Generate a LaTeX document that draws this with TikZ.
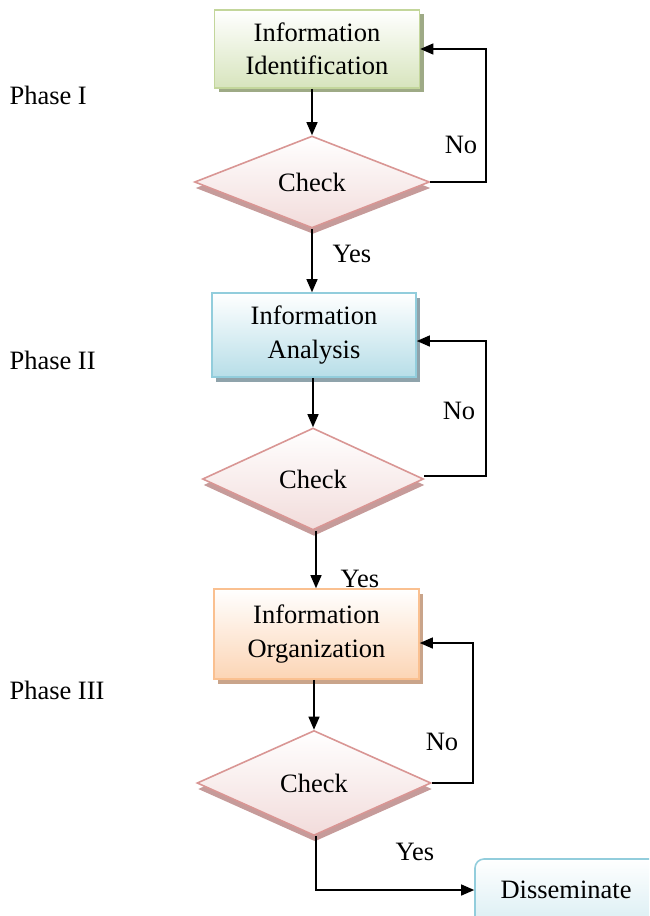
\documentclass[tikz,border=0pt]{standalone}
\usepackage{fontspec}
\setmainfont{Liberation Serif}
\usetikzlibrary{shapes.geometric,arrows.meta,shadows,calc}
\definecolor{gbord}{HTML}{C3D69B}
\definecolor{gfill}{HTML}{D7E4BD}
\definecolor{gshad}{HTML}{9EAA86}
\definecolor{bbord}{HTML}{92CDDC}
\definecolor{bfill}{HTML}{B7DEE8}
\definecolor{bshad}{HTML}{8FA3AB}
\definecolor{obord}{HTML}{FAC090}
\definecolor{ofill}{HTML}{FCD5B5}
\definecolor{oshad}{HTML}{C9A48A}
\definecolor{pbord}{HTML}{D99694}
\definecolor{pfill}{HTML}{F2DCDB}
\definecolor{pshad}{HTML}{C0908F}
\definecolor{dfill}{HTML}{DAEEF3}
\tikzset{
  txt/.style={font=\fontsize{26.5}{33.5}\selectfont, text=black},
  procbox/.style={txt, rectangle, align=center, inner sep=0pt, line width=1.6pt},
  greenbox/.style={procbox, draw=gbord, top color=white, bottom color=gfill,
     drop shadow={shadow xshift=4pt, shadow yshift=-4pt, opacity=1, fill=gshad}},
  bluebox/.style={procbox, draw=bbord, top color=white, bottom color=bfill,
     drop shadow={shadow xshift=4pt, shadow yshift=-5pt, opacity=1, fill=bshad}},
  orangebox/.style={procbox, draw=obord, top color=white, bottom color=ofill,
     drop shadow={shadow xshift=4pt, shadow yshift=-5pt, opacity=1, fill=oshad}},
  checkbox/.style={txt, diamond, inner sep=0pt, line width=1.6pt, draw=pbord,
     top color=white, bottom color=pfill,
     drop shadow={shadow xshift=1pt, shadow yshift=-6pt, opacity=0.9, fill=pshad}},
  endbox/.style={txt, rectangle, rounded corners=9pt, line width=1.6pt, draw=bbord,
     top color=white, bottom color=dfill, inner sep=0pt},
  arr/.style={line width=1.3pt, -{Triangle[length=13pt,width=11pt]}},
  lab/.style={txt},
}
\begin{document}
\begin{tikzpicture}[x=1pt,y=-1pt]
\useasboundingbox (0,0) rectangle (649,916);
\clip (0,0) rectangle (649,916);

% Phase labels
\node[lab, anchor=west] (p1) at (6,95) {Phase I};
\node[lab, anchor=west] (p2) at (6,360) {Phase II};
\node[lab, anchor=west] (p3) at (6,690) {Phase III};

% Nodes
\node[greenbox, minimum width=205pt, minimum height=78pt] (b1) at (317,49) {Information\\Identification};
\node[checkbox, minimum width=235pt, minimum height=92pt] (d1) at (312,182) {Check};
\node[bluebox, minimum width=204pt, minimum height=84pt] (b2) at (314,335) {Information\\Analysis};
\node[checkbox, minimum width=221pt, minimum height=102pt] (d2) at (313,479) {Check};
\node[orangebox, minimum width=205pt, minimum height=90pt] (b3) at (316.5,634) {Information\\Organization};
\node[checkbox, minimum width=234pt, minimum height=105pt] (d3) at (314,783) {Check};
\node[endbox, minimum width=190pt, minimum height=66pt] (dis) at (570,892) {};
\node[txt] (distxt) at (566,890) {Disseminate};

% loop coordinates
\coordinate (n1) at (486,0);
\coordinate (n2) at (486,0);
\coordinate (n3) at (473,0);

% Connectors
\draw[arr] (d1.north |- b1.south) -- (d1.north);
\draw[arr] (d1.east) -- (d1.east -| n1) |- (b1.east);
\draw[arr] (d1.south) -- (d1.south |- b2.north);
\draw[arr] (d2.north |- b2.south) -- (d2.north);
\draw[arr] ($(d2.east)+(0,-3)$) -- ($(d2.east -| n2)+(0,-3)$) |- ($(b2.east)+(0,6)$);
\draw[arr] ($(d2.south)+(3,0)$) -- ($(d2.south |- b3.north)+(3,0)$);
\draw[arr] (d3.north |- b3.south) -- (d3.north);
\draw[arr] (d3.east) -- (d3.east -| n3) |- ($(b3.east)+(0,9)$);
\draw[arr] ($(d3.south)+(2,0)$) |- (dis.west |- distxt);

% Labels
\node[lab] (no1) at (461,145) {No};
\node[lab] (no2) at (459,411) {No};
\node[lab] (no3) at (442,742) {No};
\node[lab] (yes1) at (352,254) {Yes};
\node[lab] (yes2) at (360,579) {Yes};
\node[lab] (yes3) at (415,852) {Yes};
\end{tikzpicture}
\end{document}
